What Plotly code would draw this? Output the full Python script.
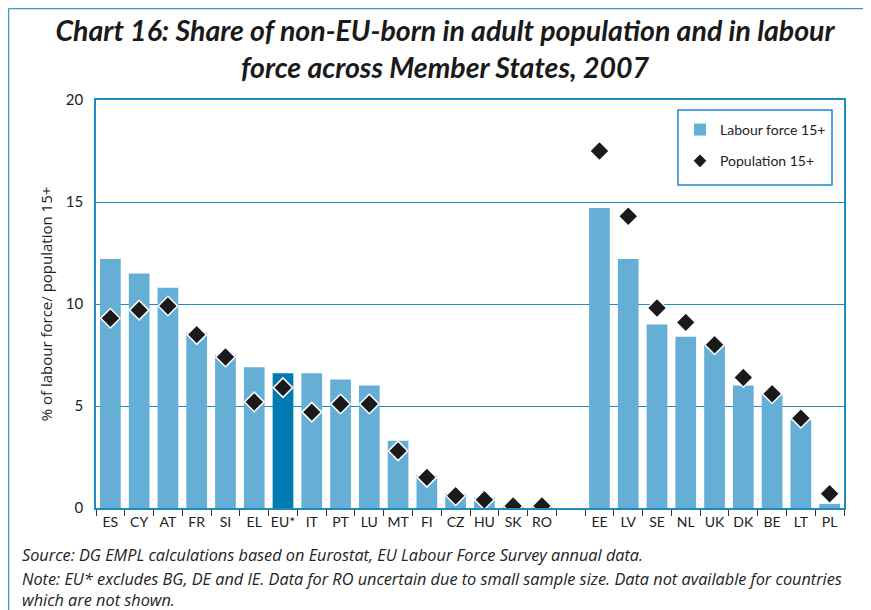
import plotly.graph_objects as go

# categories (blank slot separates the two groups)
countries = ["ES", "CY", "AT", "FR", "SI", "EL", "EU*", "IT", "PT", "LU", "MT", "FI",
             "CZ", "HU", "SK", "RO", " ", "EE", "LV", "SE", "NL", "UK", "DK", "BE", "LT", "PL"]
labour_force = [12.2, 11.5, 10.8, 8.6, 7.5, 6.9, 6.6, 6.6, 6.3, 6.0, 3.3, 1.6,
                0.7, 0.5, 0.1, 0.1, None, 14.7, 12.2, 9.0, 8.4, 8.0, 6.0, 5.6, 4.3, 0.2]
population = [9.3, 9.7, 9.9, 8.5, 7.4, 5.2, 5.9, 4.7, 5.1, 5.1, 2.8, 1.5,
              0.6, 0.4, 0.1, 0.1, None, 17.5, 14.3, 9.8, 9.1, 8.0, 6.4, 5.6, 4.4, 0.7]

light = "#65aed5"
dark = "#007ab0"
axis_blue = "#1f89c2"
bar_colors = [dark if c == "EU*" else light for c in countries]

# page body adds an 8px margin, so the figure is drawn 8px smaller and shifted
OFF = 8
W, H = 871 - OFF, 610 - OFF
L, R, T, B = 96 - OFF, 844 - OFF, 100 - OFF, 508 - OFF


def px_x(p):
    return (p - OFF - L) / (R - L)


def px_y(p):
    return (B - (p - OFF)) / (B - T)


fig = go.Figure()
fig.add_trace(go.Bar(
    x=countries, y=labour_force, name="Labour force 15+", legendgroup="a",
    marker=dict(color=bar_colors, line=dict(width=0)),
))
fig.add_trace(go.Scatter(
    x=countries, y=population, name="Population 15+", mode="markers", legendgroup="b",
    marker=dict(symbol="diamond", size=15, color="#1a1a1a",
                line=dict(color="white", width=1.5)),
))

font_main = "Lato, sans-serif"

fig.update_layout(
    width=W, height=H,
    margin=dict(l=L, r=W - R, t=T, b=H - B),
    plot_bgcolor="white", paper_bgcolor="white",
    bargap=0.28,
    showlegend=True,
    font=dict(family=font_main, size=14, color="#222222"),
    title=dict(
        text="Chart 16: Share of non-EU-born in adult population and in labour<br>"
             "force across Member States, 2007",
        x=(445 - OFF) / W, xanchor="center", y=1 - 33 / H, yanchor="top",
        font=dict(family=font_main, size=28.5, color="#1a1a1a",
                  style="italic", weight="bold"),
    ),
    legend=dict(
        x=px_x(680), y=px_y(114), xanchor="left", yanchor="top",
        borderwidth=0, bgcolor="rgba(0,0,0,0)",
        font=dict(size=14, family=font_main),
        itemsizing="constant", tracegroupgap=10,
    ),
    xaxis=dict(
        type="category", categoryorder="array", categoryarray=countries,
        range=[-0.5, len(countries) - 0.5],
        tickson="boundaries", ticks="outside", ticklen=6, tickcolor="#333333",
        showline=True, linecolor=axis_blue, linewidth=1.5, mirror=True,
        showgrid=False, tickfont=dict(size=14), tickangle=0, fixedrange=True,
    ),
    yaxis=dict(
        range=[0, 20], tickvals=[0, 5, 10, 15, 20],
        showline=True, linecolor=axis_blue, linewidth=1.5, mirror=True,
        showgrid=True, gridcolor=axis_blue, gridwidth=1.2,
        zeroline=False, ticks="", tickfont=dict(size=15), ticklabelstandoff=8,
        title=dict(text="% of labour force/ population 15+",
                   font=dict(size=15, family="Open Sans, sans-serif"),
                   standoff=10),
    ),
)

# legend frame
fig.add_shape(type="rect", xref="paper", yref="paper",
              x0=px_x(678), y0=px_y(110), x1=px_x(832), y1=px_y(185),
              line=dict(color=axis_blue, width=1.5), fillcolor="rgba(0,0,0,0)")

# outer frame (top and left edges)
fig.add_shape(type="line", xref="paper", yref="paper",
              x0=px_x(8.5), y0=px_y(8.5), x1=px_x(871), y1=px_y(8.5),
              line=dict(color="#3b9bd1", width=1.5))
fig.add_shape(type="line", xref="paper", yref="paper",
              x0=px_x(8.5), y0=px_y(8.5), x1=px_x(8.5), y1=px_y(610),
              line=dict(color="#3b9bd1", width=1.5))

source_txt = "Source: DG EMPL calculations based on Eurostat, EU Labour Force Survey annual data."
note_txt = ("Note: EU* excludes BG, DE and IE. Data for RO uncertain due to small sample size. "
            "Data not available for countries<br>which are not shown.")
note_font = dict(family="Open Sans, sans-serif", size=16.3, color="#222222", style="italic")
fig.add_annotation(text=source_txt, xref="paper", yref="paper", x=px_x(20), y=px_y(555),
                   xanchor="left", yanchor="middle", showarrow=False, font=note_font)
fig.add_annotation(text=note_txt, xref="paper", yref="paper", x=px_x(20), y=px_y(589),
                   xanchor="left", yanchor="middle", align="left", showarrow=False,
                   font=note_font)

fig.write_html("out.html")
